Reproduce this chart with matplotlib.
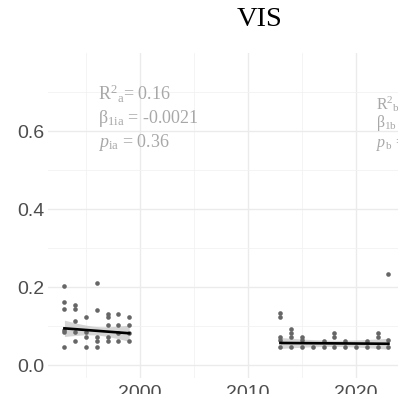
import numpy as np
import matplotlib
matplotlib.use('Agg')
import matplotlib.pyplot as plt

plt.rcParams['font.family'] = 'Liberation Sans'
plt.rcParams['mathtext.fontset'] = 'custom'
plt.rcParams['mathtext.rm'] = 'Liberation Serif'
plt.rcParams['mathtext.it'] = 'Liberation Serif:italic'

# VIS observations, first period
early_years = [1993] * 6 + [1994] * 5 + [1995] * 4 + [1996] * 5 + [1997] * 5 + [1998] * 4 + [1999] * 4
early_vis = [0.203, 0.162, 0.143, 0.091, 0.084, 0.045,
             0.154, 0.143, 0.113, 0.084, 0.062,
             0.122, 0.084, 0.073, 0.045,
             0.209, 0.141, 0.073, 0.062, 0.045,
             0.132, 0.122, 0.103, 0.073, 0.062,
             0.132, 0.103, 0.083, 0.062,
             0.122, 0.103, 0.083, 0.062]

# VIS observations, second period
late_years = [2013] * 5 + [2014] * 4 + [2015] * 3 + [2016] + [2017] * 2 + [2018] * 3 + [2019] * 2 + [2020] + [2021] * 2 + [2022] * 3 + [2023] * 3
late_vis = [0.134, 0.122, 0.073, 0.064, 0.045,
            0.092, 0.083, 0.073, 0.045,
            0.073, 0.064, 0.045,
            0.045,
            0.062, 0.045,
            0.083, 0.073, 0.045,
            0.062, 0.045,
            0.045,
            0.062, 0.045,
            0.083, 0.073, 0.045,
            0.233, 0.064, 0.045]

# trend lines: value at first year, slope per year, CI half-width at middle and ends
early_start, early_slope = 0.094, -0.0021
early_ci_mid, early_ci_end = 0.011, 0.021
late_start, late_slope = 0.0565, -0.0002
late_ci_mid, late_ci_end = 0.008, 0.014

early_label = ['R$^{2}$$_{\\mathrm{a}}$= 0.16',
               '\u03b2$_{\\mathrm{1ia}}$ = -0.0021',
               '$p$$_{\\mathrm{ia}}$ = 0.36']
late_label = ['R$^{2}$$_{\\mathrm{b}}$= 0.01',
              '\u03b2$_{\\mathrm{1b}}$ = -0.0002',
              '$p$$_{\\mathrm{b}}$ = 0.78']

fig = plt.figure(figsize=(3.98, 3.94), dpi=100)
# panel runs past the right edge of the figure
ax = fig.add_axes([48 / 398, 16 / 394, (470 - 48) / 398, (378 - 53) / 394])

for s in ax.spines.values():
    s.set_visible(False)
ax.set_xlim(1991.48, 2030.55)
ax.set_ylim(-0.0333, 0.8)
ax.set_xticks([2000, 2010, 2020])
ax.set_xticks([1995, 2005, 2015, 2025], minor=True)
ax.set_yticks([0.0, 0.2, 0.4, 0.6])
ax.set_yticks([0.1, 0.3, 0.5, 0.7], minor=True)
ax.set_yticklabels(['0.0', '0.2', '0.4', '0.6'])
ax.grid(which='major', color='#EBEBEB', linewidth=1.0)
ax.grid(which='minor', color='#F2F2F2', linewidth=0.6)
ax.tick_params(which='both', length=0, labelsize=14, labelcolor='#4D4D4D')
ax.tick_params(axis='x', pad=5)
ax.tick_params(axis='y', pad=2.5)
ax.set_axisbelow(True)


def trend(years, start, slope, ci_mid, ci_end):
    x = np.linspace(min(years), max(years), 50)
    y = start + slope * (x - x[0])
    half = (x[-1] - x[0]) / 2
    c = (x[-1] + x[0]) / 2
    w = np.sqrt(ci_mid ** 2 + (ci_end ** 2 - ci_mid ** 2) * ((x - c) / half) ** 2)
    ax.fill_between(x, y - w, y + w, color='#C4C4C4', alpha=0.7, linewidth=0, zorder=2)
    ax.plot(x, y, color='black', linewidth=1.9, zorder=4)


trend(early_years, early_start, early_slope, early_ci_mid, early_ci_end)
trend(late_years, late_start, late_slope, late_ci_mid, late_ci_end)

ax.scatter(early_years, early_vis, s=11, color='#666666', linewidths=0, zorder=3)
ax.scatter(late_years, late_vis, s=11, color='#666666', linewidths=0, zorder=3)

# fit statistics
for txt, yv in zip(early_label, [0.678, 0.620, 0.560]):
    ax.text(1996.1, yv, txt, fontsize=13, color='#A8A8A8', family='Liberation Serif',
            va='baseline', ha='left')
for txt, yv in zip(late_label, [0.654, 0.609, 0.560]):
    ax.text(2021.85, yv, txt, fontsize=11.5, color='#A8A8A8', family='Liberation Serif',
            va='baseline', ha='left')

fig.text(259.5 / 398, 1 - 19 / 394, 'VIS', fontsize=20.5, family='Liberation Serif',
         ha='center', va='center', color='black')

fig.savefig('out.png', dpi=100)
